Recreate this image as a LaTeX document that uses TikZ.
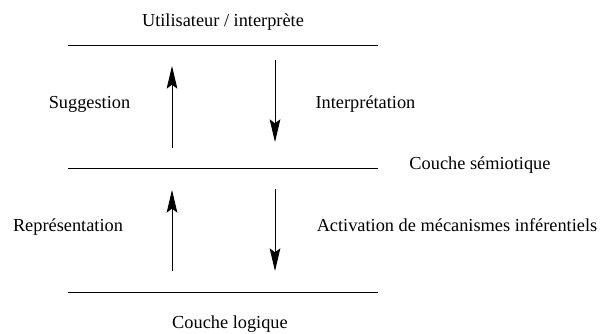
\documentclass[tikz,border=0pt]{standalone}
\usepackage{fontspec}
\setmainfont{Liberation Serif}
\usetikzlibrary{arrows.meta}
\tikzset{lab/.style={inner sep=0pt,font=\fontsize{13.75}{16}\selectfont,anchor=base},
ln/.style={line width=0.75pt,black},
arr/.style={line width=0.6pt,black,-{Stealth[length=17pt,width=8pt,inset=3pt]}}}
\begin{document}
\begin{tikzpicture}[x=0.75pt,y=-0.75pt]
\useasboundingbox (0,0) rectangle (600,334);
\node[lab] (t) at (223,27) {Utilisateur / interprète};
\coordinate (a1) at (68,45.5); \coordinate (a2) at (378,45.5);
\coordinate (b1) at (68,169); \coordinate (b2) at (378,169);
\coordinate (c1) at (68,292.5); \coordinate (c2) at (378,292.5);
\draw[ln] (a1)--(a2);
\draw[ln] (b1)--(b2);
\draw[ln] (c1)--(c2);
\coordinate (u1) at (172,148); \coordinate (u2) at (172,66);
\coordinate (d1) at (275,60); \coordinate (d2) at (275,142);
\coordinate (u3) at (172,271); \coordinate (u4) at (172,190);
\coordinate (d3) at (275,189); \coordinate (d4) at (275,271);
\draw[arr] (u1)--(u2);
\draw[arr] (d1)--(d2);
\draw[arr] (u3)--(u4);
\draw[arr] (d3)--(d4);
\node[lab] (s) at (89.5,109) {Suggestion};
\node[lab] (i) at (365.5,109) {Interprétation};
\node[lab] (cs) at (480,170) {Couche sémiotique};
\node[lab] (r) at (68,232) {Représentation};
\node[lab] (am) at (457,232) {Activation de mécanismes inférentiels};
\node[lab] (cl) at (230,329) {Couche logique};
\end{tikzpicture}
\end{document}
